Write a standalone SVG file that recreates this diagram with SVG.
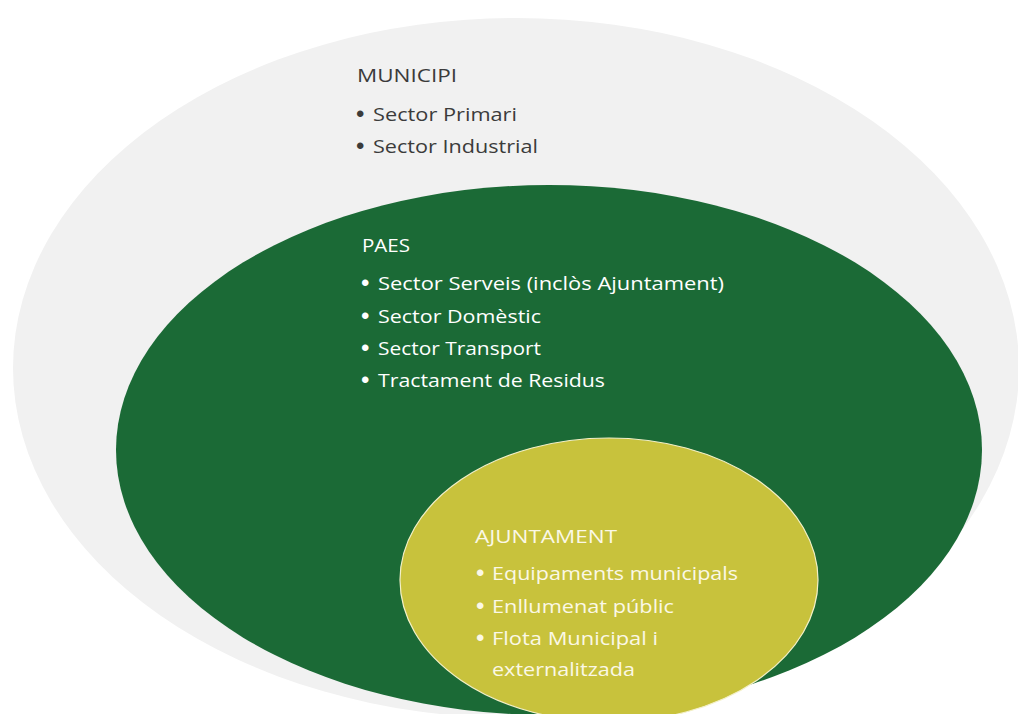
<svg xmlns="http://www.w3.org/2000/svg" width="1018" height="714" viewBox="0 0 1018 714">
<style>
.t{font-family:"Open Sans","Liberation Sans",sans-serif;font-size:19px}
.b{font-family:"Liberation Sans",sans-serif;font-size:24px}
.dark{fill:#3b3b3b}
.light{fill:#ffffff}
.cream{fill:#fbf8e6}
</style>
<rect width="1018" height="714" fill="#ffffff"/>
<g id="municipi">
<ellipse cx="516" cy="368" rx="503" ry="350" fill="#f1f1f1"/>
<text class="t dark" x="357" y="82" textLength="100" lengthAdjust="spacingAndGlyphs">MUNICIPI</text>
<text class="b dark" x="356" y="122">•</text>
<text class="t dark" x="373" y="121" textLength="144" lengthAdjust="spacingAndGlyphs">Sector Primari</text>
<text class="b dark" x="356" y="154">•</text>
<text class="t dark" x="373" y="153" textLength="165" lengthAdjust="spacingAndGlyphs">Sector Industrial</text>
</g>
<g id="paes">
<ellipse cx="549" cy="450" rx="433" ry="265" fill="#1b6a36"/>
<text class="t light" x="362" y="252" textLength="48" lengthAdjust="spacingAndGlyphs">PAES</text>
<text class="b light" x="361" y="291">•</text>
<text class="t light" x="378" y="290" textLength="346" lengthAdjust="spacingAndGlyphs">Sector Serveis (inclòs Ajuntament)</text>
<text class="b light" x="361" y="324">•</text>
<text class="t light" x="378" y="323" textLength="163" lengthAdjust="spacingAndGlyphs">Sector Domèstic</text>
<text class="b light" x="361" y="356">•</text>
<text class="t light" x="378" y="355" textLength="163" lengthAdjust="spacingAndGlyphs">Sector Transport</text>
<text class="b light" x="361" y="388">•</text>
<text class="t light" x="378" y="387" textLength="227" lengthAdjust="spacingAndGlyphs">Tractament de Residus</text>
</g>
<g id="ajuntament">
<ellipse cx="609" cy="580" rx="209" ry="142" fill="#c8c23c" stroke="#f3f0c8" stroke-width="1.2"/>
<text class="t cream" x="475" y="543" textLength="142" lengthAdjust="spacingAndGlyphs">AJUNTAMENT</text>
<text class="b cream" x="476" y="581">•</text>
<text class="t cream" x="492" y="580" textLength="246" lengthAdjust="spacingAndGlyphs">Equipaments municipals</text>
<text class="b cream" x="476" y="614">•</text>
<text class="t cream" x="492" y="613" textLength="182" lengthAdjust="spacingAndGlyphs">Enllumenat públic</text>
<text class="b cream" x="476" y="646">•</text>
<text class="t cream" x="492" y="645" textLength="166" lengthAdjust="spacingAndGlyphs">Flota Municipal i</text>
<text class="t cream" x="492" y="676" textLength="143" lengthAdjust="spacingAndGlyphs">externalitzada</text>
</g>
<g id="connectors"></g>
</svg>
